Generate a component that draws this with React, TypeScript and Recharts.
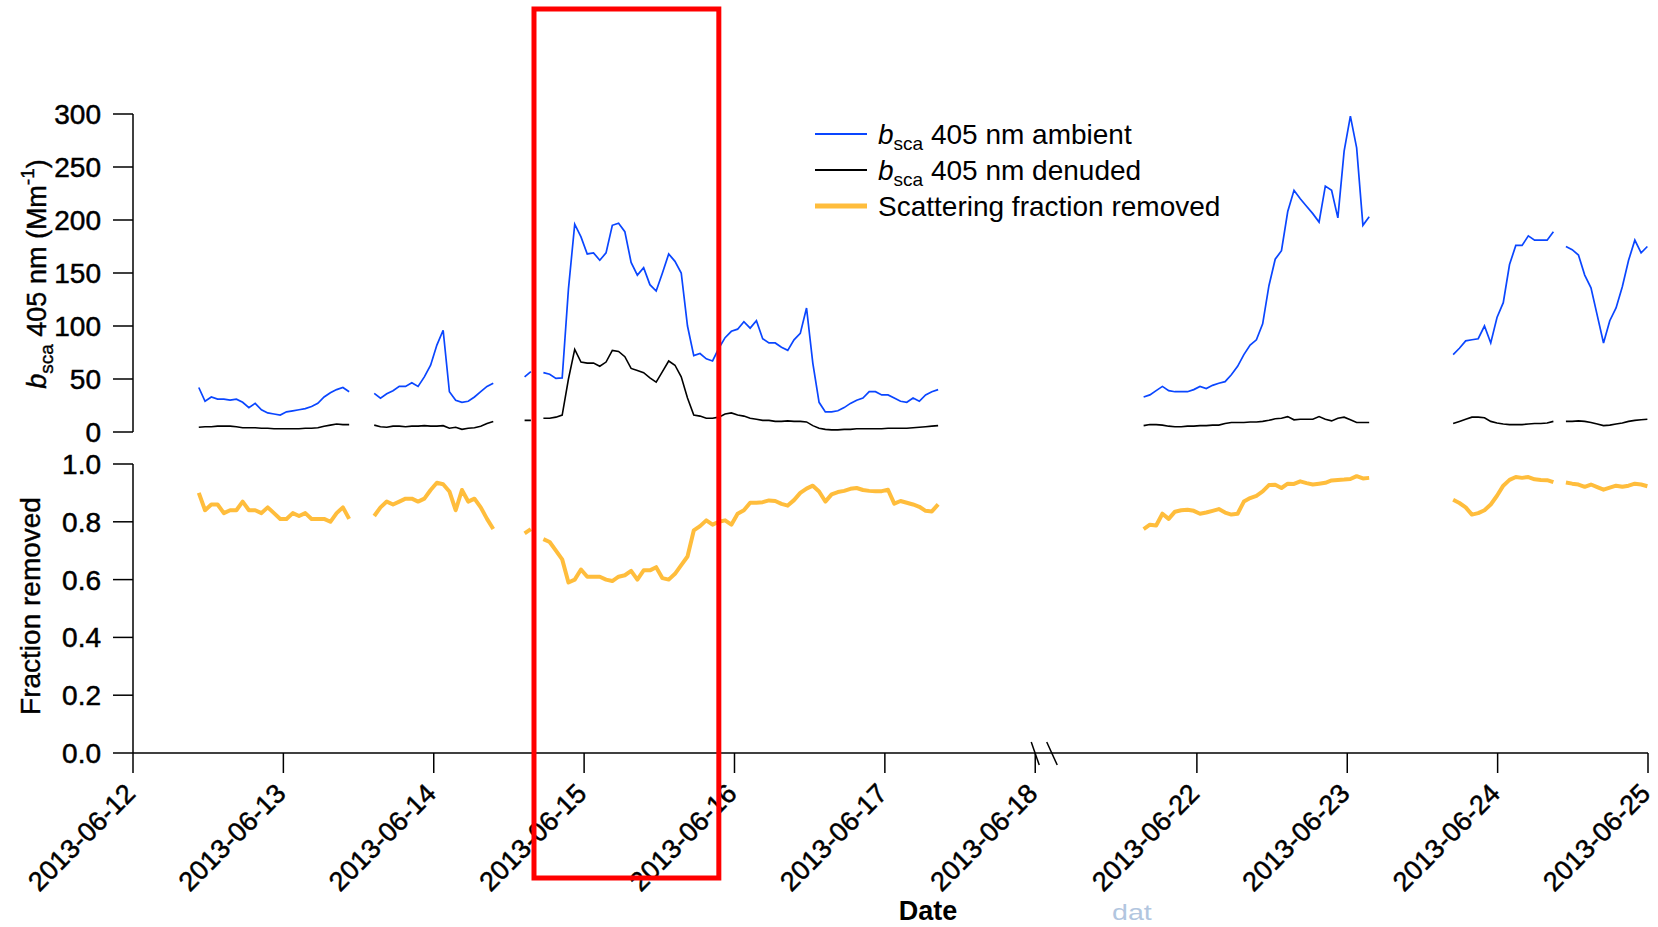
import React from 'react';
import { LineChart, Line, XAxis, YAxis } from 'recharts';

const FONT = '"Liberation Sans", Arial, Helvetica, sans-serif';

// Hours since 2013-06-12 00:00 that are cut out of the axis by the break (06-18 → 06-22)
const GAP_HOURS = 70.2;
const BREAK_AFTER_HOUR = 150;

const tickDates = [
  '2013-06-12', '2013-06-13', '2013-06-14', '2013-06-15', '2013-06-16', '2013-06-17',
  '2013-06-18', '2013-06-22', '2013-06-23', '2013-06-24', '2013-06-25',
];

// Start of each measurement block (hours since 2013-06-12 00:00), hourly samples follow
const segmentStart = [10.5, 38.5, 62.5, 65.5, 231.5, 280.9, 298.9];

// b_sca 405 nm ambient (Mm^-1)
const ambient: number[][] = [
  [42, 29, 33, 31, 31, 30, 31, 28, 23, 27, 21, 18, 17, 16, 19, 20, 21, 22, 24, 27, 33, 37, 40, 42, 38],
  [36.5, 32, 36, 39, 43, 43, 46.5, 43, 52, 63, 82, 96, 38, 30, 28, 29, 33, 38, 43, 46],
  [52, 57],
  [56, 54.5, 50.5, 51, 135, 196, 184, 168, 169, 162, 169, 195, 197, 189, 160, 148, 155, 139, 133, 150,
   168, 161, 150, 100, 72, 74, 69, 67, 79, 89, 95, 97, 104, 98, 105, 88, 84, 84, 80, 77,
   87, 93, 117, 65, 28, 19, 19, 20, 23, 27, 30, 32, 38, 38, 35, 35, 32, 29, 28, 32,
   29, 35, 38, 40],
  [33, 35, 39, 43, 39, 38, 38, 38, 40, 43, 41, 44, 46, 47.5, 54, 62, 73, 82, 87, 102,
   138, 163, 171, 208, 228, 220, 213, 206, 198, 232, 228, 202, 265, 298, 268, 195, 203],
  [73, 79, 86, 87, 88, 100, 84, 108, 122, 158, 176, 176, 185, 181, 181, 181, 189],
  [175, 172, 167, 148, 136, 110, 84, 105, 117, 137, 162, 181, 169, 175],
];

// b_sca 405 nm denuded (Mm^-1)
const denuded: number[][] = [
  [4.5, 5, 5, 5.5, 5.5, 5.5, 5, 4, 4, 4, 3.5, 3.5, 3, 3, 3, 3, 3, 3.5, 3.5, 4, 5.5, 6.5, 7.5, 7, 7],
  [6.5, 5, 4.5, 5.5, 5.5, 5, 5.5, 5.5, 6, 5.5, 5.5, 6, 3.5, 4.5, 2.5, 3.5, 4, 5.5, 8, 10],
  [11, 11],
  [13, 13, 14, 16, 50, 78, 66, 65, 65, 62, 66, 77, 76, 71, 60, 58, 56, 51, 47, 57,
   67, 63, 52, 32, 16, 15, 13, 13, 14, 17, 18, 16, 15, 13, 12, 11, 11, 10, 10, 10.5,
   10, 10, 9.5, 6, 3.5, 2.5, 2, 2, 2.5, 2.5, 3, 3, 3, 3, 3, 3.5, 3.5, 3.5, 3.5, 4,
   4.5, 5, 5.5, 6],
  [6, 7, 7, 6.5, 5.5, 5, 5, 5.5, 5.5, 6, 6, 6.5, 6.5, 8, 9, 9, 9, 9.5, 9.5, 10,
   11, 12.5, 13, 14.5, 11.5, 12, 12, 12, 14.5, 12, 10.5, 13, 14, 11.5, 9, 9, 9],
  [8, 10, 12, 14, 14, 13.5, 10, 8.5, 7.5, 7, 7, 7, 7.5, 8, 8, 8.5, 10],
  [10, 10, 10.5, 10, 9, 7.5, 6, 6.5, 7.5, 8.5, 10, 11, 11.5, 12],
];

// Scattering fraction removed by the denuder
const fractionRemoved: number[][] = [
  [0.9, 0.84, 0.86, 0.86, 0.83, 0.84, 0.84, 0.87, 0.84, 0.84, 0.83, 0.85, 0.83, 0.81, 0.81, 0.83, 0.82, 0.83, 0.81, 0.81, 0.81, 0.8, 0.83, 0.85, 0.81],
  [0.82, 0.85, 0.87, 0.86, 0.87, 0.88, 0.88, 0.87, 0.88, 0.91, 0.935, 0.93, 0.905, 0.84, 0.91, 0.87, 0.88, 0.85, 0.81, 0.775],
  [0.76, 0.775],
  [0.74, 0.73, 0.7, 0.67, 0.59, 0.6, 0.635, 0.61, 0.61, 0.61, 0.6, 0.595, 0.61, 0.615, 0.63, 0.6, 0.632, 0.632, 0.643, 0.605,
   0.6, 0.62, 0.65, 0.68, 0.77, 0.785, 0.805, 0.79, 0.8, 0.805, 0.79, 0.828, 0.84, 0.866, 0.866, 0.868, 0.874, 0.872, 0.862, 0.856,
   0.875, 0.9, 0.915, 0.925, 0.905, 0.87, 0.895, 0.903, 0.907, 0.914, 0.917, 0.91, 0.907, 0.906, 0.906, 0.911, 0.863, 0.872, 0.866, 0.86,
   0.852, 0.838, 0.836, 0.86],
  [0.775, 0.79, 0.787, 0.828, 0.81, 0.835, 0.84, 0.842, 0.838, 0.828, 0.832, 0.838, 0.844, 0.832, 0.825, 0.828, 0.87, 0.882, 0.89, 0.905,
   0.927, 0.928, 0.917, 0.932, 0.931, 0.94, 0.934, 0.929, 0.932, 0.935, 0.943, 0.945, 0.946, 0.948, 0.958, 0.95, 0.952],
  [0.876, 0.865, 0.85, 0.825, 0.83, 0.84, 0.86, 0.89, 0.925, 0.945, 0.955, 0.952, 0.955, 0.947, 0.945, 0.944, 0.937],
  [0.936, 0.932, 0.929, 0.921, 0.929, 0.92, 0.911, 0.918, 0.925, 0.921, 0.925, 0.932, 0.929, 0.923],
];

const bscaTicks = [0, 50, 100, 150, 200, 250, 300];
const fractionTicks = [0, 0.2, 0.4, 0.6, 0.8, 1.0];

// Highlighted period (hours since 2013-06-12 00:00)
const highlightHours = [64, 93.5];

// ---- layout ----
const W = 1658;
const H = 927;
const PLOT_LEFT = 133;
const PLOT_RIGHT = 1648;
const TOP_PLOT_TOP = 114;
const TOP_PLOT_BOTTOM = 432;
const BOT_PLOT_TOP = 464;
const BOT_PLOT_BOTTOM = 753;
const BOT_CHART_TOP = 450;
const X_AXIS_HEIGHT = 130;

const COLOR_AMBIENT = '#0a46ff';
const COLOR_DENUDED = '#000000';
const COLOR_FRACTION = '#ffbd3c';

const toAxisHour = (h: number) => (h > BREAK_AFTER_HOUR ? h - GAP_HOURS : h);
const dayHour = (d: string) => (Number(d.slice(8, 10)) - 12) * 24;
const tickValues = tickDates.map((d) => toAxisHour(dayHour(d)));
const X_MAX = toAxisHour(13 * 24);
const xPx = (axisHour: number) => PLOT_LEFT + (axisHour / X_MAX) * (PLOT_RIGHT - PLOT_LEFT);

type Row = { t: number; amb: number | null; den: number | null; frac: number | null };
const rows: Row[] = [];
segmentStart.forEach((start, s) => {
  ambient[s].forEach((v, i) => {
    rows.push({ t: toAxisHour(start + i), amb: v, den: denuded[s][i], frac: fractionRemoved[s][i] });
  });
  rows.push({ t: toAxisHour(start + ambient[s].length - 0.5), amb: null, den: null, frac: null });
});

const axisStroke = { stroke: '#000', strokeWidth: 1.5 };
const tickFont = { fill: '#000', fontSize: 28, fontFamily: FONT, stroke: '#000', strokeWidth: 0.5 };

const DateTick = (props: any) => {
  const { x, y, payload } = props;
  const idx = tickValues.findIndex((v) => Math.abs(v - payload.value) < 1e-6);
  const label = idx >= 0 ? tickDates[idx] : '';
  return (
    <text
      transform={`translate(${x + 4},${y + 22}) rotate(-45)`}
      textAnchor="end"
      fontSize={27}
      fontFamily={FONT}
      fill="#000"
      stroke="#000"
      strokeWidth={0.5}
    >
      {label}
    </text>
  );
};

const LegendRow = ({ y, color, width, children }: { y: number; color: string; width: number; children: React.ReactNode }) => (
  <g>
    <line x1={815} x2={867} y1={y} y2={y} stroke={color} strokeWidth={width} />
    <text x={878} y={y + 10} fontSize={28} fontFamily={FONT} fill="#000">
      {children}
    </text>
  </g>
);

export default function App() {
  const breakX = xPx(tickValues[6]);
  return (
    <div style={{ position: 'absolute', left: 0, top: 0, width: W, height: H, background: '#fff', fontFamily: FONT }}>
      <div style={{ position: 'absolute', left: 0, top: 0 }}>
        <LineChart
          width={W}
          height={TOP_PLOT_BOTTOM + 18}
          data={rows}
          margin={{ top: TOP_PLOT_TOP, right: W - PLOT_RIGHT, bottom: 18, left: 0 }}
        >
          <XAxis type="number" dataKey="t" domain={[0, X_MAX]} allowDataOverflow hide />
          <YAxis
            type="number"
            domain={[0, 300]}
            ticks={bscaTicks}
            interval={0}
            width={PLOT_LEFT}
            tickSize={20}
            tickMargin={12}
            axisLine={axisStroke}
            tickLine={axisStroke}
            tick={tickFont}
            allowDataOverflow
          />
          <Line type="linear" dataKey="den" stroke={COLOR_DENUDED} strokeWidth={1.6} dot={false} isAnimationActive={false} />
          <Line type="linear" dataKey="amb" stroke={COLOR_AMBIENT} strokeWidth={1.7} dot={false} isAnimationActive={false} />
        </LineChart>
      </div>
      <div style={{ position: 'absolute', left: 0, top: BOT_CHART_TOP }}>
        <LineChart
          width={W}
          height={H - BOT_CHART_TOP}
          data={rows}
          margin={{
            top: BOT_PLOT_TOP - BOT_CHART_TOP,
            right: W - PLOT_RIGHT,
            bottom: H - BOT_CHART_TOP - (BOT_PLOT_BOTTOM - BOT_CHART_TOP) - X_AXIS_HEIGHT,
            left: 0,
          }}
        >
          <XAxis
            type="number"
            dataKey="t"
            domain={[0, X_MAX]}
            ticks={tickValues}
            interval={0}
            height={X_AXIS_HEIGHT}
            tickSize={20}
            tickMargin={0}
            axisLine={axisStroke}
            tickLine={axisStroke}
            tick={DateTick}
            allowDataOverflow
          />
          <YAxis
            type="number"
            domain={[0, 1]}
            ticks={fractionTicks}
            interval={0}
            width={PLOT_LEFT}
            tickSize={20}
            tickMargin={12}
            axisLine={axisStroke}
            tickLine={axisStroke}
            tick={tickFont}
            tickFormatter={(v: number) => v.toFixed(1)}
            allowDataOverflow
          />
          <Line
            type="linear"
            dataKey="frac"
            stroke={COLOR_FRACTION}
            strokeWidth={4}
            strokeLinejoin="round"
            dot={false}
            isAnimationActive={false}
          />
        </LineChart>
      </div>
      <svg
        width={W}
        height={H}
        style={{ position: 'absolute', left: 0, top: 0, pointerEvents: 'none' }}
      >
        {/* axis titles */}
        <text
          transform="translate(46,274) rotate(-90)"
          textAnchor="middle"
          fontSize={27}
          fontFamily={FONT}
          fill="#000"
          stroke="#000"
          strokeWidth={0.4}
        >
          <tspan fontStyle="italic">b</tspan>
          <tspan fontSize={19} dy={7}>sca</tspan>
          <tspan dy={-7}> 405 nm (Mm</tspan>
          <tspan fontSize={19} dy={-12}>-1</tspan>
          <tspan dy={12}>)</tspan>
        </text>
        <text
          transform="translate(40,606) rotate(-90)"
          textAnchor="middle"
          fontSize={28}
          fontFamily={FONT}
          fill="#000"
          stroke="#000"
          strokeWidth={0.4}
        >
          Fraction removed
        </text>
        <text x={928} y={920} textAnchor="middle" fontSize={27} fontWeight="bold" fontFamily={FONT} fill="#000">
          Date
        </text>
        <text transform="translate(1112,920) scale(1.3,1)" fontSize={22} fontFamily={FONT} fill="#b2c6df">
          dat
        </text>

        {/* axis break marks */}
        <line x1={breakX - 4} y1={742} x2={breakX + 4} y2={765} stroke="#000" strokeWidth={1.5} />
        <line x1={breakX + 11.5} y1={742} x2={breakX + 22} y2={765} stroke="#000" strokeWidth={1.5} />

        {/* legend */}
        <LegendRow y={134} color={COLOR_AMBIENT} width={2}>
          <tspan fontStyle="italic">b</tspan>
          <tspan fontSize={19} dy={6}>sca</tspan>
          <tspan dy={-6}> 405 nm ambient</tspan>
        </LegendRow>
        <LegendRow y={170} color={COLOR_DENUDED} width={2}>
          <tspan fontStyle="italic">b</tspan>
          <tspan fontSize={19} dy={6}>sca</tspan>
          <tspan dy={-6}> 405 nm denuded</tspan>
        </LegendRow>
        <LegendRow y={206} color={COLOR_FRACTION} width={5}>
          Scattering fraction removed
        </LegendRow>

        {/* highlighted period */}
        <rect
          x={xPx(highlightHours[0])}
          y={9}
          width={xPx(highlightHours[1]) - xPx(highlightHours[0])}
          height={869}
          fill="none"
          stroke="#ff0000"
          strokeWidth={5}
        />
      </svg>
    </div>
  );
}
